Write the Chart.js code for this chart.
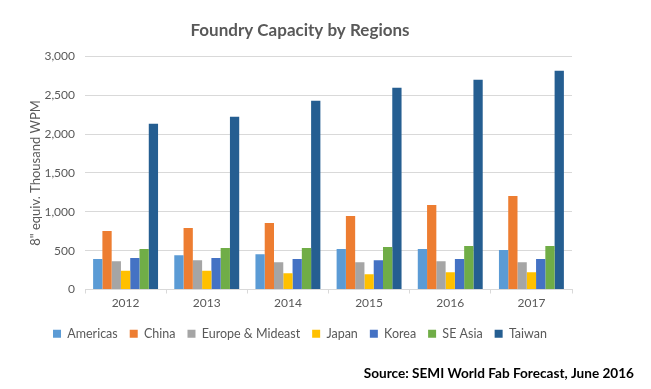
<!DOCTYPE html>
<html>
<head>
<meta charset="utf-8">
<script src="https://cdn.jsdelivr.net/npm/chart.js@4/dist/chart.umd.min.js"></script>
<style>
  html, body { margin: 0; padding: 0; background: #fff; }
  #wrap { width: 651px; height: 389px; position: relative; }
</style>
</head>
<body>
<div id="wrap"><canvas id="chart" width="651" height="389"></canvas></div>
<script>
var years    = ['2012', '2013', '2014', '2015', '2016', '2017']
var americas = [391, 442, 455, 520, 520, 507]
var china    = [752, 790, 855, 945, 1087, 1203]
var europe   = [365, 378, 352, 352, 365, 352]
var japan    = [240, 240, 210, 197, 223, 223]
var korea    = [404, 404, 391, 378, 391, 391]
var seAsia   = [520, 533, 533, 546, 559, 559]
var taiwan   = [2132, 2222, 2429, 2596, 2700, 2816]

var
    font      = 'Lato, "Open Sans", sans-serif'
  , textGray  = '#595959'
  , gridGray  = '#d9d9d9'

// source line under the legend, right aligned
var sourceNote = {
    id : 'sourceNote'
  , afterDraw : function (chart) {
      var ctx = chart.ctx
      ctx.save()
      ctx.font = 'bold 13.6px ' + font
      ctx.fillStyle = '#000'
      ctx.textAlign = 'right'
      ctx.textBaseline = 'middle'
      ctx.fillText('Source: SEMI World Fab Forecast, June 2016', 634, 374)
      ctx.restore()
  }
}

var ds = function (label, data, color) {
  return { label: label, data: data, backgroundColor: color, borderWidth: 0 }
}

new Chart(document.getElementById('chart').getContext('2d'), {
    type : 'bar'
  , data : {
        labels   : years
      , datasets : [
            ds('Americas', americas, '#5B9BD5')
          , ds('China', china, '#ED7D31')
          , ds('Europe & Mideast', europe, '#A5A5A5')
          , ds('Japan', japan, '#FFC000')
          , ds('Korea', korea, '#4472C4')
          , ds('SE Asia', seAsia, '#70AD47')
          , ds('Taiwan', taiwan, '#255E91')
        ]
    }
  , options : {
        responsive : false
      , animation  : false
      , datasets   : { bar: { categoryPercentage: 0.8, barPercentage: 1.0 } }
      , layout     : { padding: { left: 28, right: 79, top: 20, bottom: 39 } }
      , plugins : {
            title : {
                display : true
              , text    : 'Foundry Capacity by Regions'
              , color   : textGray
              , font    : { family: font, size: 17, weight: 'bold' }
              , padding : { top: 0, bottom: 16 }
            }
          , legend : {
                position : 'bottom'
              , labels : {
                    color     : textGray
                  , font      : { family: font, size: 12.5 }
                  , boxWidth  : 8
                  , boxHeight : 8
                  , padding   : 12
                }
            }
          , tooltip : { enabled: false }
        }
      , scales : {
            x : {
                grid   : { display: true, drawOnChartArea: false, drawTicks: true, tickLength: 4, color: gridGray }
              , border : { color: gridGray }
              , ticks  : { color: textGray, font: { family: font, size: 12 }, maxRotation: 0, padding: 2 }
              , afterFit : function (scale) { scale.height = 26 }
            }
          , y : {
                min : 0
              , max : 3000
              , ticks : {
                    stepSize : 500
                  , color    : textGray
                  , font     : { family: font, size: 12 }
                  , padding  : 10
                  , callback : function (v) { return v.toLocaleString('en-US') }
                }
              , grid   : { color: gridGray, drawTicks: false }
              , border : { display: false }
              , title  : {
                    display : true
                  , text    : '8" equiv. Thousand WPM'
                  , color   : textGray
                  , font    : { family: font, size: 13 }
                  , padding : { top: 0, bottom: 6 }
                }
              , afterFit : function (scale) { scale.width = 57 }
            }
        }
    }
  , plugins : [sourceNote]
})
</script>
</body>
</html>
